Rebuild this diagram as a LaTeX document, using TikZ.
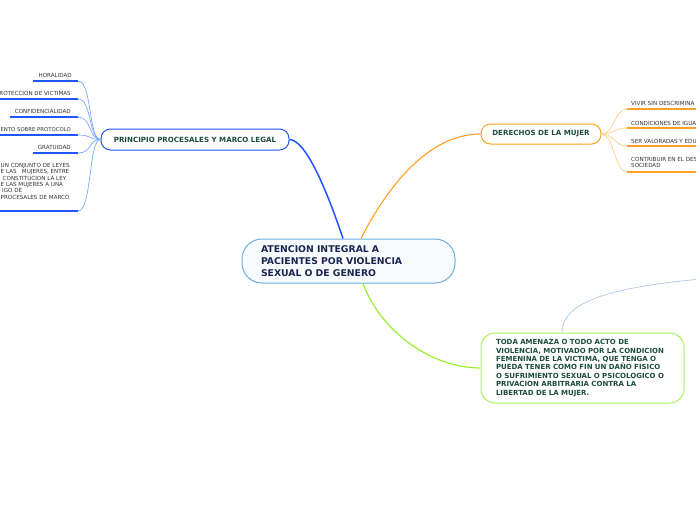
\documentclass[tikz,border=0pt]{standalone}
\usepackage{fontspec}
\setmainfont{DejaVu Sans}
\definecolor{cborder}{HTML}{6AAEE0}
\definecolor{cfill}{HTML}{F7FBFE}
\definecolor{navytext}{HTML}{1B2550}
\definecolor{greentext}{HTML}{1E4D3B}
\definecolor{mainblue}{HTML}{2255FF}
\definecolor{lightblue}{HTML}{7FA6FF}
\definecolor{mainorange}{HTML}{FFA020}
\definecolor{lightorange}{HTML}{FFCC88}
\definecolor{maingreen}{HTML}{99EE33}
\definecolor{toptrail}{HTML}{A8C8EC}
\definecolor{smalltext}{HTML}{333333}
\begin{document}
\begin{tikzpicture}[x=1pt,y=-1pt,
  centerbox/.style={draw=cborder, line width=1pt, fill=cfill, rounded corners=20pt,
    minimum width=213pt, minimum height=44pt, text width=175pt, align=left,
    inner xsep=19pt, inner ysep=0pt, text=navytext,
    font=\bfseries\fontsize{9.3}{11.7}\selectfont},
  mainbox/.style={rounded corners=9.5pt, line width=1pt, fill=white, inner sep=0pt,
    text=greentext, font=\bfseries\fontsize{7.1}{8.5}\selectfont},
  todabox/.style={draw=maingreen!80!white, line width=1pt, fill=white, rounded corners=14pt,
    minimum width=203pt, minimum height=70pt, text width=173pt, align=left,
    inner xsep=15pt, inner ysep=0pt, text=greentext,
    font=\bfseries\fontsize{7}{8.45}\selectfont},
  small/.style={inner sep=0pt, text=smalltext, text height=4.1pt, text depth=0pt,
    font=\fontsize{5.6}{6.35}\selectfont},
  smallml/.style={inner sep=0pt, text=smalltext, align=left,
    font=\fontsize{5.6}{6.35}\selectfont},
  bline/.style={draw=mainblue, line width=1.6pt},
  oline/.style={draw=mainorange, line width=1.6pt},
  lchild/.style={draw=lightblue, line width=0.7pt},
  rchild/.style={draw=lightorange, line width=0.7pt},
]
\useasboundingbox (0,0) rectangle (696,520);
\clip (0,0) rectangle (696,520);

% main nodes
\node[centerbox] (c) at (348.5,261) {ATENCION INTEGRAL A\\PACIENTES POR VIOLENCIA\\SEXUAL O DE GENERO};
\node[mainbox, draw=mainblue, minimum width=188pt, minimum height=21pt] (p) at (195,139.5) {PRINCIPIO PROCESALES Y MARCO LEGAL};
\node[mainbox, draw=mainorange, minimum width=120pt, minimum height=20pt] (d) at (541,134) {DERECHOS DE LA MUJER};
\node[todabox] (t) at (582.5,368) {TODA AMENAZA O TODO ACTO DE\\VIOLENCIA, MOTIVADO POR LA CONDICION\\FEMENINA DE LA VICTIMA, QUE TENGA O\\PUEDA TENER COMO FIN UN DAÑO FISICO\\O SUFRIMIENTO SEXUAL O PSICOLOGICO O\\PRIVACION ARBITRARIA CONTRA LA\\LIBERTAD DE LA MUJER.};

% main connectors
\draw[draw=mainblue, line width=1.5pt] ([xshift=-5.5pt]c.north) .. controls (325,185) and (305,140) .. (p.east);
\draw[draw=mainorange, line width=1.1pt] ([xshift=12.5pt]c.north) .. controls (378,205) and (420,134) .. (d.west);
\draw[draw=maingreen, line width=1.2pt] ([xshift=14.5pt]c.south) .. controls (380,330) and (430,368) .. (t.west);
\coordinate (trail) at (702,279);
\draw[draw=toptrail, line width=0.7pt] ([xshift=-20.5pt]t.north) .. controls (562,305) and (600,288) .. (trail);

% left children
\node[small, anchor=east] (l1) at (72,75) {HORALIDAD};
\coordinate (u1) at (78,81);
\node[small, anchor=east] (l2) at (71,93) {ROTECCION DE VICTIMAS};
\coordinate (u2) at (78,99);
\node[small, anchor=east] (l3) at (71,111) {CONFIDENCIALIDAD};
\coordinate (u3) at (78,117);
\node[small, anchor=east, font=\fontsize{5.35}{6.35}\selectfont] (l4) at (71,129) {ENTO SOBRE PROTOCOLO};
\coordinate (u4) at (78,135);
\node[small, anchor=east] (l5) at (71,147) {GRATUIDAD};
\coordinate (u5) at (78,153);
\node[smallml, anchor=north west] (l6) at (0.5,163) {UN CONJUNTO DE LEYES\\E LAS\ \ \ MUJERES, ENTRE\\\hspace*{2pt}CONSTITUCION LA LEY\\E LAS MUJERES A UNA\\\hspace*{1.5pt}IGO DE\\PROCESALES DE MARCO};
\coordinate (u6) at (78,211);

\foreach \i in {1,...,5} {
  \draw[bline] ([xshift=-5pt]l\i.west |- u\i) -- (u\i);
}
\draw[bline] (-2,211) -- (u6);
\foreach \i in {1,...,6} {
  \draw[lchild] (u\i) .. controls +(14,0) and +(-12,0) .. (p.west);
}

% right children
\node[small, anchor=west] (r1) at (631,103) {VIVIR SIN DESCRIMINA};
\coordinate (v1) at (627,109);
\node[small, anchor=west] (r2) at (631,123) {CONDICIONES DE IGUA};
\coordinate (v2) at (627,128);
\node[small, anchor=west] (r3) at (631,141) {SER VALORADAS Y EDU};
\coordinate (v3) at (627,146);
\node[smallml, anchor=north west] (r4) at (631,157) {CONTRIBUIR EN EL DES\\SOCIEDAD};
\coordinate (v4) at (627,172);

\foreach \i in {1,...,4} {
  \draw[oline] (v\i) -- ++(80,0);
  \draw[rchild] (d.east) .. controls +(12,0) and +(-12,0) .. (v\i);
}
\end{tikzpicture}
\end{document}
